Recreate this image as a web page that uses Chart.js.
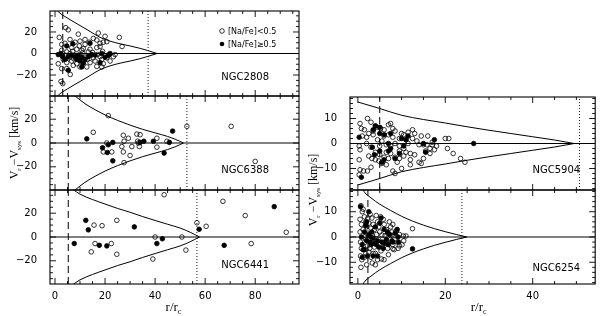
<!DOCTYPE html>
<html>
<head>
<meta charset="utf-8">
<script src="https://cdn.jsdelivr.net/npm/chart.js@4.4.0/dist/chart.umd.min.js"></script>
<style>
  body { margin: 0; background: #fff; width: 600px; height: 316px; overflow: hidden; }
  canvas { position: absolute; left: 0; top: 0; }
</style>
</head>
<body>
<canvas id="p2808" width="600" height="316"></canvas>
<canvas id="p6388" width="600" height="316"></canvas>
<canvas id="p6441" width="600" height="316"></canvas>
<canvas id="p5904" width="600" height="316"></canvas>
<canvas id="p6254" width="600" height="316"></canvas>
<script>
// tick labels
const leftRTicks = [0, 20, 40, 60, 80];
const leftVTicks = [-20, 0, 20];
const rightRTicks = [0, 20, 40];
const rightVTicks = [-10, 0, 10];

// [r/rc, Vr - Vsys]; "low" = [Na/Fe]<0.5 (open), "high" = [Na/Fe]>=0.5 (filled)
const ngc2808Low = [[4.3,24],[5.3,22],[1.7,15],[9.3,18],[17.3,19],[20,16],[25.7,15],[26.8,6.5],[6,13],[2.7,8.5],
  [4,9.5],[8,10.5],[10,11.5],[12,13],[13.7,10.5],[15.3,14],[16.7,12.5],[18,9.5],[19.3,10.5],[20.7,11],
  [16.7,5.5],[18,6.5],[14,4],[11.3,4.5],[8.7,4],[6.7,5.5],[4.7,1.5],[2.7,3],[6,0],[10,-1.5],
  [12.7,-3],[15.3,-4],[18,-3],[20.7,-4],[23.3,-3],[3.3,-5.5],[4.7,-8.5],[6.7,-7],[8.7,-9.5],[11.3,-7],
  [14,-8.5],[10,-12.5],[16.7,-12],[18.7,-12.5],[19.3,-9.5],[6.1,-19.5],[2.4,-26],[3.1,-28],[8,-1.5],[4,-1.5],
  [13.3,1.5],[10.7,3],[12,8.5],[9.7,7],[7.3,-11],[12.7,-12.5],[22,-7],[18.7,-5.5],[16,-7],[1.3,-9.5],
  [2.7,-14],[4.7,-14],[7,2],[9,-4],[11,0.5],[14.5,-1.5],[17,-1],[21.5,-1.5],[24,-1],[3,-3],
  [5.5,-4],[7.5,-5],[13,-5.5],[15,1],[19,2]];
const ngc2808High = [[1.3,-1],[2.3,0],[5.3,-3],[6.7,-1.5],[8,-3],[9.3,-1.5],[10.7,-3.5],[12,-5.5],[13.3,-3],
  [11.3,-9],[10.7,-12.5],[5.3,-15.5],[4,-5.5],[7.1,9],[4.7,7],[14,9.5],[14.7,-1],[18.7,0],[18,-8.5],
  [20,-3.5],[21.3,-1.5],[22,0],[10,-7],[8.7,-5.5],[16,-1.5],[3,-2]];

const ngc6388Low = [[21.3,23],[15.3,9],[19.3,-7.5],[20.7,0],[22.7,-7.5],[27.3,-7.5],[27.6,-16.5],[26.7,-3],
  [27.3,6.5],[27.6,1.5],[29.3,4],[30.7,-3],[30,-10.5],[32.7,7.5],[34,7],[33.3,0],[33,1.5],[40.7,4],
  [40.7,-3.5],[44.7,1.5],[33.7,-3],[52.7,14],[70.4,14],[80,-15.5]];
const ngc6388High = [[12.7,3.5],[19,-4],[20.9,-8],[21.3,-1.5],[23.1,0.5],[23.1,-15],[34,0.5],[35.5,1.5],
  [39.3,1.5],[43.6,-8.5],[45.7,0.5],[47,10]];

const ngc6441Low = [[43.6,35.5],[67.1,30],[76,18],[24.7,14],[15.6,10],[18.8,9.5],[60.4,9],[56.7,12],[40,0],
  [50.7,0],[92.4,4],[16,-5.5],[22.5,-5.5],[14.5,-12.5],[24.7,-14.5],[39.1,-18.5],[52.3,-11],[78.4,-5.5]];
const ngc6441High = [[7.7,-5.5],[12.3,14],[13.3,6],[17.7,-7],[20.7,-7.5],[31.7,8.5],[40.7,-5.5],[42.9,-1.5],
  [57.6,6.5],[67.6,-7],[87.6,25.5]];

const ngc5904Low = [[0.5,8],[0.8,6],[2.2,10],[3,8.5],[1,3],[0.3,-1],[0.5,-2.5],[0.3,-6.5],[0.5,-10.5],[0.3,-12.5],
  [1.3,-11],[2.2,-11],[3,-9.5],[2,2.5],[2.5,4],[3.5,3.5],[4,7],[4.3,6.5],[5.2,6],[6,5.5],
  [7,7.5],[7.5,8],[8,6],[4.5,1.5],[5.5,1],[6.5,-0.5],[7.5,-1],[8.5,0],[9.5,2],[10.5,3.5],
  [11.5,4.5],[12.5,5.5],[13,4],[4,-3.5],[5,-4.5],[6.5,-3.5],[7.5,-4],[8.5,-5.5],[9.5,-3],[10.5,-2],
  [11,-3.5],[12,-4],[13,-4.5],[14,-0.5],[15,-0.5],[15.8,-0.5],[16.5,-2],[17,-0.5],[17.5,-2.5],[16.5,-4],
  [15,-6],[12,-6.5],[9,-7.5],[8,-11],[8.5,-12],[10,-10],[12,-8.5],[14,-7.5],[14.5,-8],[4,-6.5],
  [4.8,-7],[5.5,-8],[6.5,-8.5],[2.5,-5],[3.2,-6],[3,-1.5],[2,0],[6,3],[7,3.5],[8,2.5],
  [9.5,-1],[10.5,-5],[11.5,0],[13.5,1],[14.5,3],[16,3],[17,0.5],[18,-1],[20,2],[20.8,2],
  [20.5,-2],[21.8,-4],[23.5,-6],[24.5,-7.5],[5,-1],[6,-5.5],[8.5,5],[10,4],[11,1.5],[3.5,5],
  [1.5,5.5],[12.5,2],[15.5,-3],[7,-6],[9.5,-6]];
const ngc5904High = [[0.3,2.5],[0.8,-13.5],[3.3,-1.5],[3.8,-4.5],[3.5,5.5],[4,7],[5,6.5],[5,4],[5.5,-7.5],
  [6,-6.5],[6,3.5],[7,-3],[7.5,-2],[7,0],[7.5,4],[8.5,-6],[9.5,-4],[10,2],[10.5,-1],[11,1.5],
  [11.5,3],[15,0],[15.5,-3.5],[17.5,1.5],[26.5,0],[5,-3]];

const ngc6254Low = [[0.7,12.4],[1.2,11],[0.7,-12],[3.3,-10.3],[5.4,-8.7],[12.5,3.3],[11,0.4],[10.4,0.4],[10.1,-3.1],
  [8,-4.7],[0.5,7],[0.8,5],[0.5,2],[0.6,-2],[0.8,-4.5],[0.6,-7.5],[0.9,-9],[1.5,8],[1.8,6],
  [2,4],[2.3,1.5],[1.8,-1],[2.2,-3.5],[2.5,-6],[1.5,-8],[2.8,9],[3.2,7.5],[3.5,5],[3.8,3],
  [3.3,0.5],[3.5,-2],[3.8,-4],[4,-6.5],[3,-8],[4.2,8.5],[4.5,6],[4.8,4],[5,2],[4.7,-1],
  [5,-3],[5.3,-5.5],[4.5,-9],[5.8,7],[6,5],[6.5,3],[6.2,0.5],[6.5,-2],[6.8,-4.5],[7,-7],
  [7.5,4],[7.8,2],[7.5,-1],[8,-3],[8.5,0.5],[8.8,2.5],[9,-2],[9.5,-3.5],[9.5,1],[10.5,-1.5],
  [6,-9],[2,-11],[1,10],[1.2,3],[1.5,0],[2.7,-4.5],[4.3,1],[5.5,0.8],[6.8,1.5],[3,3.5],
  [2.5,5.5],[7.2,6],[5.2,8],[4,-11],[8,5],[1.8,-6.5],[3.5,-6.5],[5.8,-2.5],[8.3,-5],[9.2,-4.5],
  [2.3,7.5]];
const ngc6254High = [[0.6,12],[2.5,10],[0.8,0],[1,-3],[1.2,-5],[1.5,2],[1.8,4.5],[2,-1.5],[2.2,-7.5],[2.5,1],
  [2.8,-2],[3,-3],[3.2,2],[3.5,-0.5],[3.8,-2.5],[4,4],[4.2,-3],[4.5,-1.5],[4.8,-4],[5,5.5],
  [5.3,7.5],[5.5,-2],[5.8,-4.5],[6,3],[6.2,-2.5],[6.5,-1],[7,-3],[7.3,1],[7.8,-1.5],[8,-2],
  [8.5,1.5],[9,3],[9.2,0],[9.3,-2],[12.5,-4.7],[1,-8],[3.5,-7.5],[4.5,-7.5],[2,6],[3,0],
  [6.8,2],[1.5,-5]];

// upper envelope curves [r/rc, V] (the lower one is its mirror)
const ngc2808Env = [[0.5,41],[1.3,38.8],[6,31.5],[10,26],[14,20.5],[18,15],[22,11.5],[26,9],[30,7],[34,4.8],[37,2.8],[40.8,0]];
const ngc6388Env = [[7,41],[8,39.5],[12,33],[16,28],[20,23.6],[25,19],[30,15],[35,11.5],[40,8.5],[45,5.5],[48,3.2],[51.3,0]];
const ngc6441Env = [[6.5,41],[7.5,39.5],[10,36],[15,31.5],[20,27.7],[25,24],[30,20.8],[35,17.2],[40,13.9],[45,10.7],[50,7.5],[54,4],[57.7,0]];
const ngc5904Env = [[0,16.6],[5,14],[10,11.3],[15,9.6],[20,8.2],[25,6.7],[30,5.3],[35,4],[40,2.7],[45,1.4],[49.5,0]];
const ngc6254Env = [[0.9,20],[1.2,18.6],[3,15.5],[5,13],[7.5,10.5],[10,8.2],[12.5,6.3],[15,4.7],[17.5,3.3],[20,2.1],[22.5,1],[24.9,0]];

// dashed / dotted vertical markers (r/rc)
const dashedR = { ngc2808: 3.1, ngc6388: 5.3, ngc6441: 5.3, ngc5904: 5.0, ngc6254: 2.3 };
const dottedR = { ngc2808: 37.2, ngc6388: 52.7, ngc6441: 56.7, ngc5904: 50.7, ngc6254: 23.8 };

const SANS = 'DejaVu Sans';
const SERIF = 'Liberation Serif';

function xy(arr, sign) {
  return arr.map(p => ({ x: p[0], y: (sign || 1) * p[1] }));
}
function lineSet(data, dash, smooth) {
  return { data, showLine: true, pointRadius: 0, borderColor: '#000', borderWidth: dash && dash[0] === 1 ? 0.9 : 1,
           borderDash: dash || [], cubicInterpolationMode: smooth ? 'monotone' : 'default', fill: false };
}
function pointSet(arr, filled) {
  return { data: xy(arr), showLine: false, pointRadius: 2.3, pointBorderWidth: 0.8,
           pointBorderColor: '#000', pointBackgroundColor: filled ? '#000' : 'rgba(0,0,0,0)' };
}
function minusFmt(v) { return String(v).replace('-', '\u2212'); }

// draws text pieces (with subscripts) centred on (x, y)
function drawParts(ctx, parts, x, y) {
  let w = 0;
  parts.forEach(p => { ctx.font = p.size + 'px "' + SERIF + '"'; p.w = ctx.measureText(p.t).width; w += p.w; });
  let cx = x - w / 2;
  ctx.textAlign = 'left';
  ctx.textBaseline = 'alphabetic';
  parts.forEach(p => { ctx.font = p.size + 'px "' + SERIF + '"'; ctx.fillText(p.t, cx, y + (p.dy || 0)); cx += p.w; });
}
const vTitle = [{t:'V',size:12},{t:'r',size:7,dy:2.5},{t:' \u2212V',size:12},{t:'sys',size:7,dy:2.5},{t:' [km/s]',size:12}];
const rTitle = [{t:'r/r',size:13},{t:'c',size:8,dy:3}];

const framePlugin = {
  id: 'frame',
  afterDraw(chart, args, o) {
    const ctx = chart.ctx, a = chart.chartArea;
    const xs = chart.scales.x, ys = chart.scales.y;
    ctx.save();
    ctx.strokeStyle = '#000';
    ctx.lineWidth = 1.1;
    ctx.strokeRect(a.left, a.top, a.right - a.left, a.bottom - a.top);
    ctx.lineWidth = 0.9;
    ctx.beginPath();
    for (let v = Math.ceil(xs.min / o.xMinor) * o.xMinor; v <= xs.max; v += o.xMinor) {
      const px = xs.getPixelForValue(v);
      const len = Math.abs(v % o.xMajor) < 1e-6 ? 6 : 3;
      ctx.moveTo(px, a.bottom); ctx.lineTo(px, a.bottom - len);
      ctx.moveTo(px, a.top); ctx.lineTo(px, a.top + len);
    }
    for (let v = Math.ceil(ys.min / o.yMinor) * o.yMinor; v <= ys.max; v += o.yMinor) {
      const py = ys.getPixelForValue(v);
      const len = Math.abs(v % o.yMajor) < 1e-6 ? 6 : 3;
      ctx.moveTo(a.left, py); ctx.lineTo(a.left + len, py);
      ctx.moveTo(a.right, py); ctx.lineTo(a.right - len, py);
    }
    ctx.stroke();
    ctx.fillStyle = '#000';
    // r/rc tick labels on the bottom panels
    if (o.xTicks) {
      ctx.font = '10px "' + SANS + '"';
      ctx.textAlign = 'center';
      ctx.textBaseline = 'middle';
      o.xTicks.forEach(v => ctx.fillText(minusFmt(v), xs.getPixelForValue(v), a.bottom + 12));
    }
    // cluster name
    ctx.font = '10px "' + SANS + '"';
    ctx.textAlign = 'right';
    ctx.textBaseline = 'middle';
    ctx.fillText(o.name, a.right - o.nameDx, a.bottom - o.nameDy);
    if (o.legend) {
      ctx.font = '8px "' + SANS + '"';
      ctx.textAlign = 'left';
      const lx = a.left + 172;
      [[a.top + 20, false, '[Na/Fe]<0.5'], [a.top + 33, true, '[Na/Fe]\u22650.5']].forEach(l => {
        ctx.beginPath();
        ctx.arc(lx, l[0], 2.3, 0, Math.PI * 2);
        ctx.lineWidth = 0.8;
        if (l[1]) ctx.fill(); else ctx.stroke();
        ctx.fillText(l[2], lx + 6, l[0] + 0.5);
      });
    }
    if (o.rTitle) {
      drawParts(ctx, rTitle, (a.left + a.right) / 2 + o.rTitleDx, a.bottom + 27);
    }
    if (o.vTitle) {
      ctx.translate(o.vTitle[0], o.vTitle[1]);
      ctx.rotate(-Math.PI / 2);
      drawParts(ctx, vTitle, 0, 4);
    }
    ctx.restore();
  }
};

function makePanel(id, p) {
  new Chart(document.getElementById(id), {
    type: 'scatter',
    data: {
      datasets: [
        pointSet(p.high, true),
        pointSet(p.low, false),
        lineSet([{ x: p.xr[0], y: 0 }, { x: p.xr[1], y: 0 }]),
        lineSet(xy(p.env, 1), null, true),
        lineSet(xy(p.env, -1), null, true),
        lineSet([{ x: p.dash, y: -p.ymax }, { x: p.dash, y: p.ymax }], [7, 4]),
        lineSet([{ x: p.dot, y: -p.ymax }, { x: p.dot, y: p.ymax }], [1, 2])
      ]
    },
    options: {
      responsive: false,
      animation: false,
      devicePixelRatio: 1,
      layout: { padding: { left: 0, top: p.box[1], right: 600 - p.box[2], bottom: 0 } },
      plugins: {
        legend: { display: false },
        tooltip: { enabled: false },
        frame: Object.assign({ xTicks: p.xLabels ? p.xTicks : null }, p.frame)
      },
      scales: {
        x: {
          type: 'linear', min: p.xr[0], max: p.xr[1],
          grid: { display: false }, border: { display: false },
          ticks: { display: false },
          afterFit: s => { s.height = 316 - p.box[3]; }
        },
        y: {
          type: 'linear', min: -p.ymax, max: p.ymax,
          grid: { display: false }, border: { display: false },
          ticks: { padding: 5, color: '#000', font: { family: SANS, size: 10 }, callback: minusFmt, autoSkip: false },
          afterBuildTicks: s => { s.ticks = p.yTicks.map(v => ({ value: v })); },
          afterFit: s => { s.width = p.box[0]; }
        }
      }
    },
    plugins: [framePlugin]
  });
}

const leftX = [-2, 97.5];
const rightX = [-1.8, 54.3];
const leftFrame = { xMajor: 20, xMinor: 5, yMajor: 20, yMinor: 5, nameDx: 30 };
const rightFrame = { xMajor: 20, xMinor: 5, yMajor: 10, yMinor: 2, nameDx: 15 };

makePanel('p2808', { box: [50, 2, 299, 96], xr: leftX, ymax: 39.5, xTicks: leftRTicks, yTicks: leftVTicks, xLabels: false,
  low: ngc2808Low, high: ngc2808High, env: ngc2808Env, dash: dashedR.ngc2808, dot: dottedR.ngc2808,
  frame: Object.assign({ name: 'NGC2808', nameDy: 19, legend: true }, leftFrame) });
makePanel('p6388', { box: [50, 96, 299, 190], xr: leftX, ymax: 39.5, xTicks: leftRTicks, yTicks: leftVTicks, xLabels: false,
  low: ngc6388Low, high: ngc6388High, env: ngc6388Env, dash: dashedR.ngc6388, dot: dottedR.ngc6388,
  frame: Object.assign({ name: 'NGC6388', nameDy: 20, vTitle: [14, 143] }, leftFrame) });
makePanel('p6441', { box: [50, 190, 299, 284], xr: leftX, ymax: 39.5, xTicks: leftRTicks, yTicks: leftVTicks, xLabels: true,
  low: ngc6441Low, high: ngc6441High, env: ngc6441Env, dash: dashedR.ngc6441, dot: dottedR.ngc6441,
  frame: Object.assign({ name: 'NGC6441', nameDy: 19, rTitle: true, rTitleDx: -1 }, leftFrame) });
makePanel('p5904', { box: [350, 97, 598, 190], xr: rightX, ymax: 18.6, xTicks: rightRTicks, yTicks: rightVTicks, xLabels: false,
  low: ngc5904Low, high: ngc5904High, env: ngc5904Env, dash: dashedR.ngc5904, dot: dottedR.ngc5904,
  frame: Object.assign({ name: 'NGC5904', nameDy: 20, vTitle: [313, 190] }, rightFrame) });
makePanel('p6254', { box: [350, 190, 598, 284], xr: rightX, ymax: 18.6, xTicks: rightRTicks, yTicks: rightVTicks, xLabels: true,
  low: ngc6254Low, high: ngc6254High, env: ngc6254Env, dash: dashedR.ngc6254, dot: dottedR.ngc6254,
  frame: Object.assign({ name: 'NGC6254', nameDy: 16, rTitle: true, rTitleDx: 6 }, rightFrame) });
</script>
</body>
</html>
